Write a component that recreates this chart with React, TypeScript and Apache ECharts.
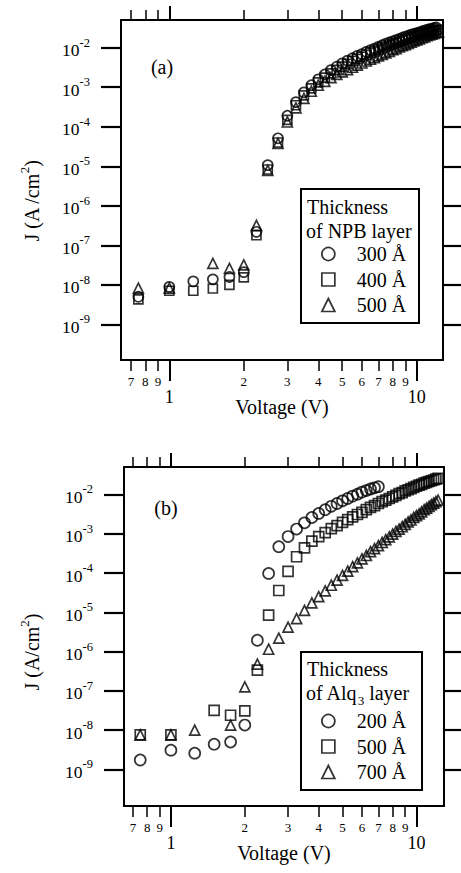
import React, { useEffect, useRef } from "react";
import * as echarts from "echarts";

// Applied voltages (V), shared sampling of both panels
const VOLTAGE = [
  0.75, 1.0, 1.25, 1.5, 1.75, 2.0, 2.25, 2.5, 2.75, 3.0, 3.25, 3.5, 3.75, 4.0, 4.25, 4.5,
  4.75, 5.0, 5.25, 5.5, 5.75, 6.0, 6.25, 6.5, 6.75, 7.0, 7.25, 7.5, 7.75, 8.0, 8.25, 8.5,
  8.75, 9.0, 9.25, 9.5, 9.75, 10.0, 10.25, 10.5, 10.75, 11.0, 11.25, 11.5, 11.75, 12.0, 12.25,
];

// Panel (a): NPB thickness, current density J (A/cm^2)
const J_NPB_300 = [
  5.0e-9, 8.9e-9, 1.23e-8, 1.38e-8, 1.58e-8, 2.1e-8, 2.2e-7, 1.07e-5, 5.1e-5, 1.9e-4, 4.2e-4, 7.4e-4,
  1.12e-3, 1.58e-3, 2.1e-3, 2.7e-3, 3.3e-3, 4.0e-3, 4.7e-3, 5.4e-3, 6.2e-3, 6.9e-3, 7.8e-3, 8.7e-3,
  9.5e-3, 1.05e-2, 1.15e-2, 1.26e-2, 1.35e-2, 1.45e-2, 1.55e-2, 1.66e-2, 1.78e-2, 1.9e-2, 2.0e-2,
  2.14e-2, 2.24e-2, 2.34e-2, 2.45e-2, 2.57e-2, 2.69e-2, 2.82e-2, 2.95e-2, 3.0e-2, 3.16e-2, 3.24e-2, null,
];
const J_NPB_400 = [
  4.3e-9, 7.1e-9, 7.1e-9, 8.1e-9, 1.0e-8, 1.55e-8, 1.8e-7, 8.3e-6, 4.0e-5, 1.5e-4, 3.5e-4, 6.2e-4,
  9.3e-4, 1.32e-3, 1.74e-3, 2.24e-3, 2.75e-3, 3.3e-3, 3.9e-3, 4.6e-3, 5.2e-3, 5.9e-3, 6.6e-3, 7.4e-3,
  8.1e-3, 8.9e-3, 9.8e-3, 1.07e-2, 1.15e-2, 1.23e-2, 1.32e-2, 1.41e-2, 1.51e-2, 1.62e-2, 1.7e-2,
  1.82e-2, 1.91e-2, 2.0e-2, 2.09e-2, 2.19e-2, 2.29e-2, 2.4e-2, 2.51e-2, 2.57e-2, 2.69e-2, 2.75e-2, 2.88e-2,
];
const J_NPB_500 = [
  8.3e-9, 8.3e-9, null, 3.5e-8, 2.6e-8, 3.2e-8, 3.2e-7, 7.9e-6, 3.8e-5, 1.32e-4, 3.0e-4, 5.2e-4,
  7.9e-4, 1.12e-3, 1.41e-3, 1.74e-3, 2.1e-3, 2.45e-3, 2.8e-3, 3.2e-3, 3.6e-3, 4.1e-3, 4.6e-3, 5.1e-3,
  5.6e-3, 6.2e-3, 6.8e-3, 7.4e-3, 8.1e-3, 8.9e-3, 9.5e-3, 1.05e-2, 1.12e-2, 1.2e-2, 1.29e-2,
  1.38e-2, 1.48e-2, 1.58e-2, 1.66e-2, 1.78e-2, 1.86e-2, 2.0e-2, 2.09e-2, 2.19e-2, 2.29e-2, 2.4e-2, 2.51e-2,
];

// Panel (b): Alq3 thickness, current density J (A/cm^2)
const J_ALQ_200 = [
  1.74e-9, 3.1e-9, 2.6e-9, 4.4e-9, 5.0e-9, 1.35e-8, 1.95e-6, 9.8e-5, 4.7e-4, 8.5e-4, 1.32e-3, 1.9e-3,
  2.6e-3, 3.3e-3, 4.1e-3, 5.0e-3, 5.9e-3, 6.9e-3, 7.9e-3, 9.1e-3, 1.02e-2, 1.15e-2, 1.26e-2, 1.38e-2,
  1.48e-2, 1.58e-2, null, null, null, null, null, null, null, null, null,
  null, null, null, null, null, null, null, null, null, null, null, null,
];
const J_ALQ_500 = [
  7.6e-9, 7.6e-9, null, 3.2e-8, 2.4e-8, 3.1e-8, 3.4e-7, 8.5e-6, 3.6e-5, 1.1e-4, 2.6e-4, 4.4e-4,
  6.5e-4, 8.5e-4, 1.07e-3, 1.35e-3, 1.62e-3, 1.95e-3, 2.3e-3, 2.7e-3, 3.1e-3, 3.5e-3, 4.1e-3, 4.7e-3,
  5.2e-3, 5.9e-3, 6.6e-3, 7.2e-3, 7.9e-3, 8.7e-3, 9.5e-3, 1.05e-2, 1.12e-2, 1.23e-2, 1.32e-2,
  1.41e-2, 1.51e-2, 1.62e-2, 1.74e-2, 1.82e-2, 1.95e-2, 2.04e-2, 2.14e-2, 2.24e-2, 2.34e-2, 2.45e-2, 2.57e-2,
];
const J_ALQ_700 = [
  7.6e-9, 7.6e-9, 1.0e-8, null, 1.35e-8, 1.26e-7, 4.8e-7, 1.15e-6, 2.2e-6, 4.2e-6, 6.9e-6, 1.12e-5,
  1.74e-5, 2.5e-5, 3.5e-5, 4.9e-5, 6.6e-5, 8.7e-5, 1.12e-4, 1.45e-4, 1.82e-4, 2.3e-4, 2.8e-4, 3.5e-4,
  4.2e-4, 5.0e-4, 6.0e-4, 7.1e-4, 8.3e-4, 9.8e-4, 1.15e-3, 1.32e-3, 1.51e-3, 1.74e-3, 2.0e-3,
  2.24e-3, 2.6e-3, 2.9e-3, 3.2e-3, 3.6e-3, 4.1e-3, 4.5e-3, 5.0e-3, 5.5e-3, 6.0e-3, 6.6e-3, 7.2e-3,
];

const NPB_LABELS = ["300 Å", "400 Å", "500 Å"];
const ALQ_LABELS = ["200 Å", "500 Å", "700 Å"];

// Tick positions and labels
const MINOR_TICKS = [0.7, 0.8, 0.9, 2, 3, 4, 5, 6, 7, 8, 9];
const MINOR_LABELS = ["7", "8", "9", "2", "3", "4", "5", "6", "7", "8", "9"];
const MAJOR_TICKS = [1, 10];
const MAJOR_LABELS = ["1", "10"];
const Y_EXPONENTS = [-9, -8, -7, -6, -5, -4, -3, -2];

const FONT = "'Liberation Serif', 'Times New Roman', serif";
const BLACK = "#000";
const lg = (v: number) => Math.log10(v);

function pairs(v: number[], j: (number | null)[]) {
  const out: number[][] = [];
  v.forEach((x, i) => {
    const y = j[i];
    if (y !== null && y !== undefined) out.push([lg(x), lg(y)]);
  });
  return out;
}

function nearestLabel(vals: number[], labels: string[]) {
  return (v: number) => {
    let k = 0;
    let best = Infinity;
    vals.forEach((t, i) => {
      const d = Math.abs(t - v);
      if (d < best) {
        best = d;
        k = i;
      }
    });
    return labels[k];
  };
}

function xAxes(gridIndex: number, min: number, max: number) {
  const minorVals = MINOR_TICKS.map(lg);
  const majorVals = MAJOR_TICKS.map(lg);
  const base = { type: "value", gridIndex, min, max, splitLine: { show: false } };
  const line = { show: true, onZero: false, lineStyle: { color: BLACK, width: 2 } };
  return [
    {
      ...base,
      position: "bottom",
      axisLine: line,
      axisTick: { show: true, customValues: minorVals, length: 11, lineStyle: { color: BLACK, width: 1.5 } },
      axisLabel: {
        show: true,
        customValues: minorVals,
        formatter: nearestLabel(minorVals, MINOR_LABELS),
        fontSize: 13,
        fontFamily: FONT,
        color: BLACK,
        margin: 15,
      },
      name: "Voltage (V)",
      nameLocation: "middle",
      nameGap: 37,
      nameTextStyle: { fontSize: 20, fontFamily: FONT, color: BLACK },
    },
    {
      ...base,
      position: "bottom",
      axisLine: { show: false, onZero: false },
      axisTick: { show: true, customValues: majorVals, length: 21, lineStyle: { color: BLACK, width: 2 } },
      axisLabel: {
        show: true,
        customValues: majorVals,
        formatter: nearestLabel(majorVals, MAJOR_LABELS),
        fontSize: 18,
        fontFamily: FONT,
        color: BLACK,
        margin: 28,
      },
    },
    {
      ...base,
      position: "top",
      axisLine: line,
      axisTick: { show: true, customValues: minorVals, length: 10, lineStyle: { color: BLACK, width: 1.5 } },
      axisLabel: { show: false },
    },
    {
      ...base,
      position: "top",
      axisLine: { show: false, onZero: false },
      axisTick: { show: true, customValues: majorVals, length: 14, lineStyle: { color: BLACK, width: 2 } },
      axisLabel: { show: false },
    },
  ];
}

function yAxes(gridIndex: number, min: number, max: number) {
  const base = { type: "value", gridIndex, min, max, splitLine: { show: false } };
  const line = { show: true, onZero: false, lineStyle: { color: BLACK, width: 2 } };
  const tick = { show: true, customValues: Y_EXPONENTS, length: 20, lineStyle: { color: BLACK, width: 2.2 } };
  return [
    {
      ...base,
      position: "left",
      axisLine: line,
      axisTick: tick,
      axisLabel: {
        show: true,
        customValues: Y_EXPONENTS,
        formatter: (v: number) => `{b|10}{s|${Math.round(v)}}`,
        margin: 31,
        padding: [6, 0, 0, 0],
        rich: {
          b: { fontSize: 17.5, fontFamily: FONT, color: BLACK, lineHeight: 17, verticalAlign: "bottom" },
          s: {
            fontSize: 12.5,
            fontFamily: FONT,
            color: BLACK,
            lineHeight: 12,
            verticalAlign: "bottom",
            padding: [0, 0, 10, 0],
          },
        },
      },
    },
    {
      ...base,
      position: "right",
      axisLine: line,
      axisTick: tick,
      axisLabel: { show: false },
    },
  ];
}

function scatter(name: string, symbol: string, size: number, xi: number, yi: number, data: number[][]) {
  return {
    type: "scatter",
    name,
    xAxisIndex: xi,
    yAxisIndex: yi,
    symbol,
    symbolSize: size,
    data,
    silent: true,
    itemStyle: { color: "rgba(0,0,0,0)", borderColor: BLACK, borderWidth: 1.7 },
  };
}

const LEGEND_NAMES: Record<string, string> = {
  a0: NPB_LABELS[0],
  a1: NPB_LABELS[1],
  a2: NPB_LABELS[2],
  b0: ALQ_LABELS[0],
  b1: ALQ_LABELS[1],
  b2: ALQ_LABELS[2],
};

function legend(names: string[], top: number) {
  return {
    orient: "vertical",
    left: 321,
    top,
    padding: 0,
    itemWidth: 13,
    itemHeight: 13,
    itemGap: 5.5,
    selectedMode: false,
    data: names,
    formatter: (n: string) => LEGEND_NAMES[n],
    textStyle: { fontSize: 20, fontFamily: FONT, color: BLACK, lineHeight: 20, padding: [0, 0, 0, 17] },
    itemStyle: { color: "rgba(0,0,0,0)", borderColor: BLACK, borderWidth: 1.7 },
    z: 6,
  };
}

function text(x: number, y: number, str: string, extra: any = {}) {
  return {
    type: "text",
    x,
    y,
    z: 7,
    ...extra,
    style: {
      text: str,
      fontSize: 20,
      fontFamily: FONT,
      fill: BLACK,
      align: extra.align || "left",
      verticalAlign: "middle",
      ...(extra.style || {}),
    },
  };
}

export default function App() {
  const ref = useRef<HTMLDivElement>(null);
  useEffect(() => {
    if (!ref.current) return;
    const chart = echarts.init(ref.current, undefined, { renderer: "svg" });
    const xa = [...xAxes(0, lg(0.638), lg(12.77)), ...xAxes(1, lg(0.644), lg(12.95))];
    const ya = [...yAxes(0, -9.9, -1.3), ...yAxes(1, -9.93, -1.3)];
    const supRich = {
      t: { fontSize: 20, fontFamily: FONT, fill: BLACK, lineHeight: 28, verticalAlign: "middle" },
      sup: { fontSize: 13, fontFamily: FONT, fill: BLACK, lineHeight: 10, verticalAlign: "top" },
    };
    const subRich = {
      t: { fontSize: 20, fontFamily: FONT, fill: BLACK, lineHeight: 20, verticalAlign: "middle" },
      sub: { fontSize: 13, fontFamily: FONT, fill: BLACK, lineHeight: 12, verticalAlign: "top", padding: [11, 0, 0, 0] },
    };
    chart.setOption({
      animation: false,
      backgroundColor: "#fff",
      grid: [
        { left: 121, top: 20, width: 322, height: 340 },
        { left: 124, top: 467, width: 320, height: 339 },
      ],
      xAxis: xa,
      yAxis: ya,
      legend: [legend(["a0", "a1", "a2"], 244), legend(["b0", "b1", "b2"], 711)],
      series: [
        scatter("a0", "circle", 10, 0, 0, pairs(VOLTAGE, J_NPB_300)),
        scatter("a1", "rect", 9, 0, 0, pairs(VOLTAGE, J_NPB_400)),
        scatter("a2", "triangle", 10, 0, 0, pairs(VOLTAGE, J_NPB_500)),
        scatter("b0", "circle", 11, 4, 2, pairs(VOLTAGE, J_ALQ_200)),
        scatter("b1", "rect", 10, 4, 2, pairs(VOLTAGE, J_ALQ_500)),
        scatter("b2", "triangle", 10, 4, 2, pairs(VOLTAGE, J_ALQ_700)),
      ],
      graphic: [
        { type: "rect", z: 5, shape: { x: 301, y: 189, width: 118, height: 134 }, style: { fill: "#fff", stroke: BLACK, lineWidth: 2 } },
        { type: "rect", z: 5, shape: { x: 301, y: 652, width: 121, height: 138 }, style: { fill: "#fff", stroke: BLACK, lineWidth: 2 } },
        text(307, 207, "Thickness"),
        text(306, 231, "of NPB layer"),
        text(307, 669, "Thickness"),
        text(306, 693, "{t|of Alq}{sub|3}{t| layer}", { style: { rich: subRich } }),
        text(162, 67, "(a)", { align: "center" }),
        text(166, 508, "(b)", { align: "center" }),
        text(32, 201, "{t|J (A /cm}{sup|2}{t|)}", { align: "center", rotation: Math.PI / 2, style: { rich: supRich } }),
        text(32, 652, "{t|J (A/cm}{sup|2}{t|)}", { align: "center", rotation: Math.PI / 2, style: { rich: supRich } }),
      ],
    });
    return () => chart.dispose();
  }, []);
  return <div ref={ref} style={{ position: "absolute", left: 0, top: 0, width: 461, height: 873 }} />;
}
